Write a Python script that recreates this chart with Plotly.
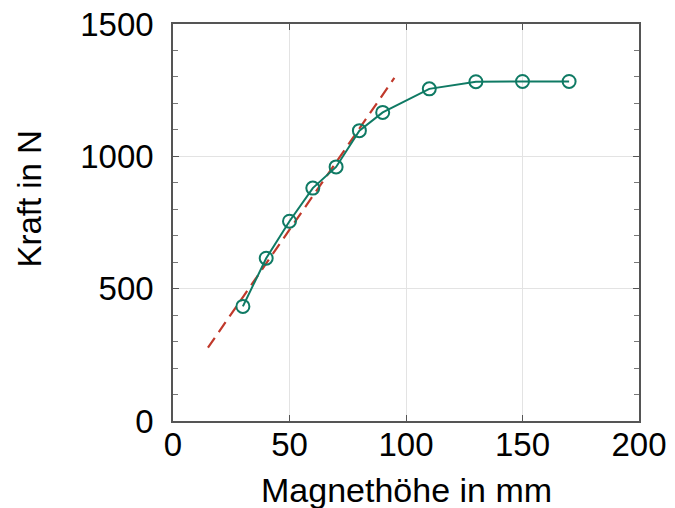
import plotly.graph_objects as go

# Data
hoehe_mm = [30, 40, 50, 60, 70, 80, 90, 110, 130, 150, 170]
kraft_n = [433, 615, 755, 880, 960, 1097, 1166, 1255, 1282, 1283, 1283]

fit_x = [15, 95]
fit_y = [277, 1296]

x_ticks = [0, 50, 100, 150, 200]
y_ticks = [0, 500, 1000, 1500]

teal = "#0f7a64"
red = "#c0392b"
font = "Liberation Sans, Arial, sans-serif"
fs = 33

fig = go.Figure()
fig.add_trace(go.Scatter(
    x=fit_x, y=fit_y, mode="lines",
    line=dict(color=red, width=2.2, dash="12px,7px"),
    showlegend=False, hoverinfo="skip",
))
fig.add_trace(go.Scatter(
    x=hoehe_mm, y=kraft_n, mode="lines+markers",
    line=dict(color=teal, width=2),
    marker=dict(symbol="circle-open", size=13, color=teal, line=dict(width=2, color=teal)),
    showlegend=False,
))

fig.update_layout(
    width=675, height=508,
    margin=dict(l=173, r=36, t=24, b=87),
    paper_bgcolor="white", plot_bgcolor="white",
    font=dict(family=font, size=fs, color="black"),
    xaxis=dict(
        range=[0, 200], tickvals=x_ticks, ticktext=[str(v) for v in x_ticks],
        showgrid=True, gridcolor="#e3e3e3", gridwidth=1,
        showline=True, linecolor="#555555", linewidth=1.5, mirror="ticks",
        ticks="inside", ticklen=6, tickcolor="#555555", tickwidth=1,
        zeroline=False, tickfont=dict(size=fs, family=font),
        ticklabelstandoff=-6, automargin=False,
    ),
    yaxis=dict(
        range=[0, 1500], tickvals=y_ticks, ticktext=[str(v) for v in y_ticks],
        showgrid=True, gridcolor="#e3e3e3", gridwidth=1,
        showline=True, linecolor="#555555", linewidth=1.5, mirror="ticks",
        ticks="inside", ticklen=6, tickcolor="#555555", tickwidth=1,
        zeroline=False, tickfont=dict(size=fs, family=font),
        ticklabelstandoff=11, automargin=False,
        minor=dict(dtick=100, ticks="inside", ticklen=5, tickcolor="#777777", showgrid=False),
    ),
    annotations=[
        dict(
            text="Kraft in N", textangle=-90, xref="paper", yref="paper",
            x=-0.307, y=0.56, xanchor="center", yanchor="middle",
            showarrow=False, font=dict(size=fs, family=font, color="black"),
        ),
        dict(
            text="Magnethöhe in mm", xref="paper", yref="paper",
            x=0.50, y=-0.226, xanchor="center", yanchor="bottom",
            showarrow=False, font=dict(size=34, family=font, color="black"),
        ),
    ],
)

fig.write_html(
    "out.html",
    config={"displayModeBar": False},
    post_script="document.body.style.margin='0';document.body.style.padding='0';",
)
